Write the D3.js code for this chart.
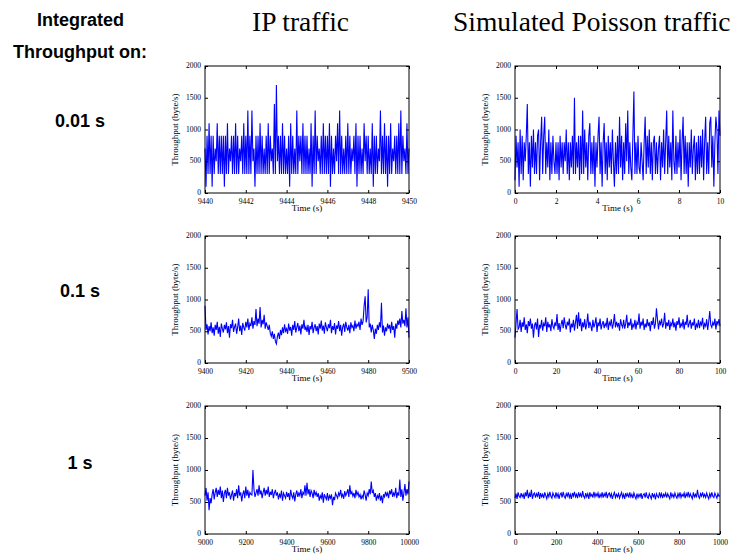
<!DOCTYPE html>
<html><head><meta charset="utf-8">
<script src="https://cdn.jsdelivr.net/npm/d3@7"></script>
<style>body{margin:0;background:#fff}svg{display:block}</style>
</head><body>
<svg id="c" width="739" height="554"></svg>
<script>
// ---------- data ----------
const columnTitles = ["IP traffic", "Simulated Poisson traffic"];
const rowLabels = ["0.01 s", "0.1 s", "1 s"];
const yTicks = [0, 500, 1000, 1500, 2000];

const ipTicks001 = [9440, 9442, 9444, 9446, 9448, 9450];
const ipTicks01 = [9400, 9420, 9440, 9460, 9480, 9500];
const ipTicks1 = [9000, 9200, 9400, 9600, 9800, 10000];
const poiTicks001 = [0, 2, 4, 6, 8, 10];
const poiTicks01 = [0, 20, 40, 60, 80, 100];
const poiTicks1 = [0, 200, 400, 600, 800, 1000];

// throughput samples (byte/s)
const ip001 = [700,100,900,300,1100,300,900,100,900,300,700,500,1100,300,900,300,900,300,900,100,
900,300,1100,300,700,500,900,300,900,300,1100,300,900,300,700,500,900,300,1100,300,
900,300,1300,300,900,300,1300,500,700,100,900,300,900,300,1100,300,900,300,700,300,
900,300,1100,300,900,500,700,300,1400,300,1700,500,900,300,900,300,1100,300,900,300,
700,300,900,100,1100,300,900,300,700,300,1300,300,900,500,900,300,1100,300,900,300,
900,300,700,300,1100,100,900,300,1300,300,900,500,700,300,900,300,1100,300,900,300,
900,300,1100,100,900,300,700,300,900,500,1100,300,1300,300,900,300,700,300,900,300,
1100,300,900,300,700,500,900,300,1100,100,900,300,900,300,700,300,1100,500,900,300,
900,300,700,300,1100,100,900,300,900,300,700,500,1300,300,900,300,1100,300,900,100,
900,300,1100,300,700,500,900,300,900,300,1100,300,1300,300,900,500,700,300,1100,300,700];

const poi001 = [200,900,400,800,100,1000,300,900,200,800,500,900,1400,300,800,100,900,400,1000,300,
800,300,900,1000,200,800,1200,300,900,1200,300,800,400,1000,200,800,300,900,500,300,
800,300,800,200,900,400,800,300,800,500,1000,300,800,200,800,400,900,300,1500,300,
800,400,900,200,900,300,1300,300,1000,400,800,200,900,1100,300,800,300,900,100,800,
400,900,1200,300,800,100,800,1100,300,800,200,900,400,800,300,1000,500,100,800,300,
900,300,1200,400,900,200,800,300,1100,500,1300,300,800,400,200,900,1600,300,800,300,
900,400,300,800,500,200,800,1200,300,900,400,1000,300,800,200,800,900,300,800,300,
700,900,200,800,400,1000,300,800,1300,300,900,400,800,200,1300,500,300,900,300,800,
400,1000,200,800,1200,300,900,300,800,100,800,400,1000,300,700,900,200,800,300,900,
300,900,400,1000,200,800,1200,300,800,300,1100,1200,400,900,100,800,1200,1000,300,1300,900];

const ip01 = [900,520,610,450,580,500,640,470,560,430,
600,520,650,460,570,410,620,540,480,600,
530,640,470,580,400,610,550,680,490,570,
620,460,560,700,500,590,440,630,560,510,
650,560,700,520,620,580,720,540,660,600,
850,580,700,620,880,560,680,610,760,540,
640,580,520,600,470,420,500,380,460,340,
300,420,480,380,520,440,560,470,610,500,
540,460,620,510,570,430,600,520,660,480,
560,630,500,590,450,610,540,680,520,570,
490,600,440,580,530,650,470,560,610,500,
580,450,620,540,670,510,590,460,640,560,
500,610,550,680,470,580,520,630,450,590,
540,660,500,600,430,570,620,490,650,560,
510,600,470,640,560,590,500,670,540,610,
580,650,520,700,600,660,900,1050,640,720,
1160,560,620,480,600,520,380,540,460,600,
520,640,560,950,480,590,430,560,500,620,
540,600,470,650,520,580,400,620,540,670,
600,700,560,820,620,680,580,860,560,720,400];

const poi01 = [400,620,850,530,560,680,490,640,570,720,
520,610,470,660,580,700,540,620,400,590,
640,530,700,410,600,560,680,510,620,580,
720,490,650,560,610,500,690,580,540,640,
580,770,520,630,490,610,680,550,720,600,
530,650,590,700,480,620,560,680,510,640,
760,540,800,580,700,500,640,560,690,530,
610,780,550,650,590,500,680,560,620,720,
490,640,580,700,530,610,660,550,620,580,
710,520,640,600,690,540,620,770,560,650,
580,630,510,690,600,560,680,540,620,760,
550,640,590,700,520,610,570,680,530,640,
600,780,540,650,590,700,520,620,560,690,
580,640,500,660,600,720,540,620,860,690,
530,650,610,700,560,620,790,540,640,580,
680,520,630,590,700,560,640,510,660,600,
720,550,620,580,690,530,650,600,760,560,
620,680,540,640,590,700,520,610,570,680,
550,640,600,710,530,620,580,690,520,650,
820,600,560,640,590,700,530,660,610,690,580];

const ip1 = [600,720,520,650,370,560,480,620,700,540,
650,720,580,690,610,740,560,680,500,640,
690,560,720,600,650,540,610,680,520,640,
590,700,560,760,600,650,510,620,680,560,
740,600,690,560,650,620,610,1000,700,580,
640,700,600,760,620,680,560,650,720,600,
690,620,740,580,660,610,700,560,640,690,
600,650,540,620,580,680,520,640,600,560,
660,580,640,530,690,600,560,650,510,620,
680,580,640,600,700,560,650,620,760,600,
800,620,700,580,680,640,560,690,610,650,
580,640,520,600,560,650,490,620,580,540,
640,520,600,560,620,450,580,530,640,600,
560,640,600,690,580,620,550,670,600,640,
700,580,760,620,660,590,640,560,690,610,
650,580,620,540,600,560,680,610,520,640,
600,700,620,820,640,680,580,640,520,600,
560,640,520,600,480,620,580,660,600,640,
560,680,620,700,580,640,600,720,560,650,
600,850,580,700,520,640,780,600,700,620,820];

const poi1 = [560,630,550,650,590,570,640,580,620,550,
650,590,690,560,630,580,690,550,620,640,
570,630,590,660,550,640,580,620,560,650,
600,550,630,580,660,590,560,640,600,570,
650,580,630,550,620,640,570,660,590,560,
630,590,650,570,620,550,640,590,660,580,
620,560,650,590,630,570,670,590,560,640,
580,630,550,650,590,620,570,660,580,630,
590,640,560,620,580,650,570,630,590,660,
560,620,640,580,630,550,610,650,570,620,
580,630,560,610,650,570,620,550,640,590,
630,570,650,580,620,560,640,590,550,630,
570,620,580,640,550,610,630,570,650,580,
560,630,590,550,640,580,620,540,630,590,
570,650,580,630,560,620,590,640,570,630,
590,550,650,580,620,570,640,590,560,630,
580,650,570,620,590,640,560,630,590,660,
570,630,590,550,650,580,620,570,690,590,
560,630,590,650,580,620,570,640,590,550,
630,580,650,590,570,640,600,560,630,590,600];

const panels = [
  {row:0, col:0, start:9440, step:0.05, domain:[9440,9450], ticks:ipTicks001, values:ip001},
  {row:0, col:1, start:0, step:0.05, domain:[0,10], ticks:poiTicks001, values:poi001},
  {row:1, col:0, start:9400, step:0.5, domain:[9400,9500], ticks:ipTicks01, values:ip01},
  {row:1, col:1, start:0, step:0.5, domain:[0,100], ticks:poiTicks01, values:poi01},
  {row:2, col:0, start:9000, step:5, domain:[9000,10000], ticks:ipTicks1, values:ip1},
  {row:2, col:1, start:0, step:5, domain:[0,1000], ticks:poiTicks1, values:poi1}
];

// ---------- layout ----------
const colBox = [{x0:205, x1:409}, {x0:515, x1:720}];
const rowBox = [{y0:66, y1:193}, {y0:236, y1:363}, {y0:406, y1:534}];
const svg = d3.select("#c");
const sans = "Arial, 'Liberation Sans', sans-serif";
const serif = "'Times New Roman','Liberation Serif',serif";

// headings
svg.append("text").attr("x", 37).attr("y", 26)
  .style("font-family",sans).style("font-weight","bold").style("font-size","18px")
  .text("Integrated");
svg.append("text").attr("x", 13).attr("y", 58)
  .style("font-family",sans).style("font-weight","bold").style("font-size","18px")
  .text("Throughput on:");
const titleX = [252, 453];
columnTitles.forEach((t,i)=>{
  svg.append("text").attr("x", titleX[i]).attr("y", 31)
    .style("font-family",serif).style("font-size","27.5px")
    .text(t);
});
const rowLabelY = [127, 297, 469];
rowLabels.forEach((t,i)=>{
  svg.append("text").attr("x", 80).attr("y", rowLabelY[i]).attr("text-anchor","middle")
    .style("font-family",sans).style("font-weight","bold").style("font-size","18px")
    .text(t);
});

panels.forEach(p=>{
  const cb = colBox[p.col], rb = rowBox[p.row];
  const x = d3.scaleLinear().domain(p.domain).range([cb.x0, cb.x1]);
  const y = d3.scaleLinear().domain([0,2000]).range([rb.y1, rb.y0]);
  const g = svg.append("g");

  // data line
  const line = d3.line().x((d,i)=>x(p.start + i*p.step)).y(d=>y(d));
  g.append("path").datum(p.values).attr("d", line)
    .attr("fill","none").attr("stroke","#0000ff").attr("stroke-width",1.1);

  // axes (ticks inward, on all 4 sides)
  const fmt = d3.format("d");
  const axB = g.append("g").attr("transform",`translate(0,${rb.y1})`)
    .call(d3.axisBottom(x).tickValues(p.ticks).tickFormat(fmt).tickSizeInner(-3).tickSizeOuter(0).tickPadding(6));
  const axT = g.append("g").attr("transform",`translate(0,${rb.y0})`)
    .call(d3.axisTop(x).tickValues(p.ticks).tickFormat("").tickSizeInner(-3).tickSizeOuter(0));
  const axL = g.append("g").attr("transform",`translate(${cb.x0},0)`)
    .call(d3.axisLeft(y).tickValues(yTicks).tickFormat(fmt).tickSizeInner(-3).tickSizeOuter(0).tickPadding(4));
  const axR = g.append("g").attr("transform",`translate(${cb.x1},0)`)
    .call(d3.axisRight(y).tickValues(yTicks).tickFormat("").tickSizeInner(-3).tickSizeOuter(0));
  [axB,axT,axL,axR].forEach(a=>{
    a.select(".domain").remove();
    a.selectAll("line").attr("stroke","#000");
    a.selectAll("text").style("font-family",serif).style("font-size","7.5px").attr("fill","#000");
  });
  axL.selectAll("text").attr("dy","0.2em");
  // frame
  g.append("rect").attr("x",cb.x0).attr("y",rb.y0).attr("width",cb.x1-cb.x0).attr("height",rb.y1-rb.y0)
    .attr("fill","none").attr("stroke","#000").attr("stroke-width",1);

  // axis titles
  g.append("text").attr("x",(cb.x0+cb.x1)/2).attr("y",rb.y1+18).attr("text-anchor","middle")
    .style("font-family",serif).style("font-size","9px").text("Time (s)");
  g.append("text").attr("transform",`translate(${cb.x0-27},${(rb.y0+rb.y1)/2}) rotate(-90)`)
    .attr("text-anchor","middle")
    .style("font-family",serif).style("font-size","9px").text("Throughput (byte/s)");
});
</script>
</body></html>
